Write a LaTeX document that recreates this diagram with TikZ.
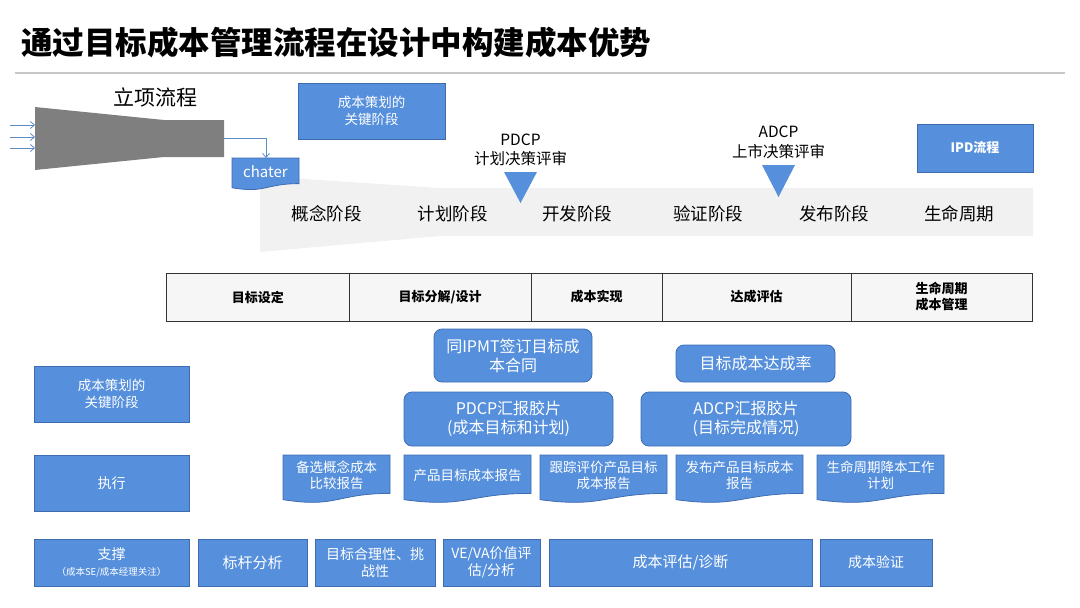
\documentclass[tikz,border=0pt]{standalone}
\usepackage{fontspec}
\setmainfont{Noto Sans CJK SC}
\usepackage{tikz}
\usetikzlibrary{calc,arrows.meta,positioning}

\definecolor{boxblue}{HTML}{5690DC}
\definecolor{boxline}{HTML}{3F6CB0}
\definecolor{funnelgray}{HTML}{7F7F7F}
\definecolor{bandgray}{HTML}{F1F1F1}
\definecolor{arrowblue}{HTML}{5E8DC6}
\definecolor{cellgray}{HTML}{F6F6F6}
\definecolor{rulegray}{HTML}{C8C8C8}

\newcommand\fsz[2]{\fontsize{#1}{#2}\selectfont}

\tikzset{
  bluebox/.style={draw=boxline, fill=boxblue, text=white, align=center, inner sep=0pt, line width=0.8pt},
  roundbox/.style={bluebox, rounded corners=8pt, font=\fsz{16}{19}},
  cell/.style={draw=black!80, fill=cellgray, align=center, inner sep=0pt, outer sep=0pt,
    line width=1pt, minimum height=48pt, font=\bfseries\fsz{13}{16}},
  phase/.style={font=\fsz{17.5}{20}},
  docshape/.style={draw=boxline, fill=boxblue, line width=0.8pt},
  doctext/.style={text=white, align=center, inner sep=0pt, font=\fsz{13.5}{16}},
  feed/.style={draw=arrowblue, line width=0.8pt, -{Straight Barb[length=4pt,width=7pt]}},
}

% document shape: name, left, right, top, height, text
\newcommand\docbox[6]{%
  \path[docshape] (#2,#4) -- (#3,#4) -- (#3,{#4+0.80*#5})
    .. controls ({(#2+#3)/2},{#4+0.80*#5}) and ({(#2+#3)/2},{#4+1.11*#5}) .. (#2,{#4+0.93*#5}) -- cycle;
  \node[doctext] (#1) at ({(#2+#3)/2},{#4+0.42*#5}) {#6};
}

\begin{document}
\begin{tikzpicture}[x=1pt,y=-1pt]
\useasboundingbox (0,0) rectangle (1080,608);

% ---- Title ----
\node[anchor=west, inner sep=0pt, font=\bfseries\fsz{31.5}{36}] (title) at (21,42) {通过目标成本管理流程在设计中构建成本优势};
\draw[rulegray, line width=1.5pt] (15,73) -- (1065,73);

% ---- IPD band ----
\fill[bandgray] (260,176) -- (440,188) -- (1033,188) -- (1033,236) -- (440,236) -- (260,252) -- cycle;
\foreach \x/\name/\txt in {326.5/concept/概念阶段, 452.5/plan/计划阶段, 577/develop/开发阶段,
                           708/verify/验证阶段, 834/release/发布阶段, 959/life/生命周期}{
  \node[phase] (\name) at (\x,214) {\txt};
}

% ---- Project initiation funnel ----
\fill[funnelgray] (35,107) -- (164,120) -- (224,120) -- (224,157) -- (164,157) -- (35,170) -- cycle;
\node[font=\fsz{21}{24}] (initlabel) at (155,97) {立项流程};
\foreach \i/\y in {1/125, 2/137, 3/148}{
  \coordinate (src\i) at (10,\y);
  \coordinate (dst\i) at (35,\y);
  \draw[feed] (src\i) -- (dst\i);
}
\coordinate (funnelout) at (224,138);
\coordinate (chatertop) at (266,158);
\docbox{chater}{232}{299}{158}{32}{\fsz{15}{18}chater}
\draw[feed] (funnelout) -| (chatertop);

% decision reviews
\fill[boxblue] (504,172) -- (537,172) -- (520.5,203) -- cycle;
\node[align=center, font=\fsz{15.5}{19}] (pdcp) at (520.5,149.5) {PDCP\\计划决策评审};
\fill[boxblue] (762,165) -- (795,165) -- (778.5,197) -- cycle;
\node[align=center, font=\fsz{15.5}{20}] (adcp) at (778.5,142) {ADCP\\上市决策评审};

\node[bluebox, minimum width=147pt, minimum height=56pt, font=\fsz{13.5}{17}] (topkey) at (371.5,111) {成本策划的\\关键阶段};
\node[bluebox, minimum width=116pt, minimum height=48pt, font=\bfseries\fsz{13}{16}] (ipd) at (975,148) {IPD流程};

% ---- Target cost table ----
\node[cell, minimum width=182.5pt] (set) at (257.75,297) {目标设定};
\node[cell, minimum width=182pt, right=0pt of set] (split) {目标分解/设计};
\node[cell, minimum width=131pt, right=0pt of split] (realize) {成本实现};
\node[cell, minimum width=189pt, right=0pt of realize] (assess) {达成评估};
\node[cell, minimum width=181pt, right=0pt of assess] (lifecost) {生命周期\\成本管理};

% ---- Key stages ----
\node[bluebox, minimum width=155pt, minimum height=56pt, font=\fsz{13.5}{17}] (keystage) at (111.5,394) {成本策划的\\关键阶段};
\node[roundbox, minimum width=158pt, minimum height=53pt] (contract) at (513,355.5) {同IPMT签订目标成\\本合同};
\node[roundbox, minimum width=209pt, minimum height=54pt] (pdcpdeck) at (508.5,419) {PDCP汇报胶片\\(成本目标和计划)};
\node[roundbox, minimum width=159pt, minimum height=37pt] (rate) at (755.5,363.5) {目标成本达成率};
\node[roundbox, minimum width=210pt, minimum height=54pt] (adcpdeck) at (746,419) {ADCP汇报胶片\\(目标完成情况)};

% ---- Execution ----
\node[bluebox, minimum width=155pt, minimum height=56pt, font=\fsz{14}{17}] (execute) at (111.5,483) {执行};
\docbox{altreport}{283}{390}{455}{48}{备选概念成本\\比较报告}
\docbox{prodreport}{404}{531}{455}{48}{产品目标成本报告}
\docbox{trackreport}{540}{667}{455}{48}{跟踪评价产品目标\\成本报告}
\docbox{relreport}{676}{803}{455}{48}{发布产品目标成本\\报告}
\docbox{lifeplan}{817}{944}{455}{48}{生命周期降本工作\\计划}

% ---- Support ----
\node[bluebox, minimum width=155pt, minimum height=47pt, font=\fsz{14}{16}] (support) at (111.5,562.5) {支撑\\{\fsz{9.5}{12}（成本SE/成本经理关注）}};
\node[bluebox, minimum width=109pt, minimum height=47pt, font=\fsz{15}{18}] (bench) at (252.5,562.5) {标杆分析};
\node[bluebox, minimum width=120pt, minimum height=47pt, font=\fsz{14}{17}] (reason) at (375,562.5) {目标合理性、挑\\战性};
\node[bluebox, minimum width=97pt, minimum height=47pt, font=\fsz{14}{17}] (veva) at (491.5,562.5) {VE/VA价值评\\估/分析};
\node[bluebox, minimum width=263pt, minimum height=47pt, font=\fsz{15}{18}] (diagnose) at (680.5,562.5) {成本评估/诊断};
\node[bluebox, minimum width=112pt, minimum height=47pt, font=\fsz{14}{17}] (costcheck) at (876,562.5) {成本验证};

\end{tikzpicture}
\end{document}
